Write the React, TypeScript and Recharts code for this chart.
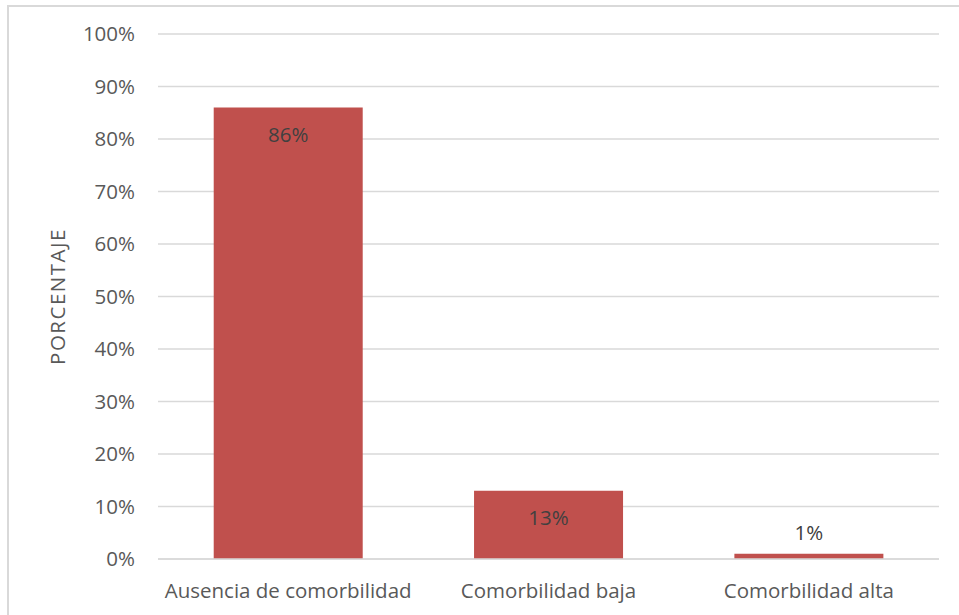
import { BarChart, Bar, XAxis, YAxis, CartesianGrid, LabelList, Label } from "recharts";

const CATEGORIES = ["Ausencia de comorbilidad", "Comorbilidad baja", "Comorbilidad alta"];
const PERCENTS = [86, 13, 1];
const Y_TICKS = [0, 10, 20, 30, 40, 50, 60, 70, 80, 90, 100];

const FONT = "'Open Sans', Lato, sans-serif";
const FS = 20.5;
const BAR_COLOR = "#C0504D";

const data = CATEGORIES.map((name, i) => ({ name, value: PERCENTS[i] }));

function ValueLabel(props: any) {
  const { x, y, width, height, value } = props;
  const inside = height > 40;
  const cy = inside ? y + 29 : y - 19;
  return (
    <text
      x={x + width / 2}
      y={cy}
      textAnchor="middle"
      dominantBaseline="middle"
      fill="#404040"
      fontSize={FS}
      fontFamily={FONT}
    >
      {`${value}%`}
    </text>
  );
}

function AxisTitle(props: any) {
  const { viewBox } = props;
  const cx = 60;
  const cy = viewBox.y + viewBox.height / 2;
  return (
    <text
      x={cx}
      y={cy}
      transform={`rotate(-90, ${cx}, ${cy})`}
      textAnchor="middle"
      dominantBaseline="middle"
      fill="#595959"
      fontSize={FS}
      fontFamily={FONT}
      letterSpacing={1.5}
    >
      PORCENTAJE
    </text>
  );
}

export default function App() {
  return (
    <div style={{ position: "fixed", left: 0, top: 0, width: 959, height: 615, background: "#fff" }}>
      <div
        style={{
          position: "absolute",
          left: 7,
          top: 5,
          right: -2,
          bottom: -2,
          borderLeft: "2px solid #D9D9D9",
          borderTop: "2px solid #D9D9D9",
        }}
      />
      <BarChart
        width={959}
        height={615}
        data={data}
        margin={{ top: 34, right: 20, left: 0, bottom: 0 }}
        barCategoryGap="21.4%"
        style={{ position: "absolute", left: 0, top: 0 }}
      >
        <CartesianGrid vertical={false} stroke="#D9D9D9" strokeWidth={1.5} />
        <XAxis
          dataKey="name"
          height={56}
          axisLine={{ stroke: "#D9D9D9", strokeWidth: 1.5 }}
          tickLine={false}
          tickSize={0}
          tickMargin={24}
          tick={{ fill: "#595959", fontSize: FS, fontFamily: FONT }}
        />
        <YAxis
          width={158}
          domain={[0, 100]}
          ticks={Y_TICKS}
          tickFormatter={(v) => `${v}%`}
          axisLine={false}
          tickLine={false}
          tickSize={0}
          tickMargin={23}
          tick={{ fill: "#595959", fontSize: FS, fontFamily: FONT }}
        >
          <Label content={<AxisTitle />} />
        </YAxis>
        <Bar dataKey="value" fill={BAR_COLOR} isAnimationActive={false}>
          <LabelList dataKey="value" content={<ValueLabel />} />
        </Bar>
      </BarChart>
    </div>
  );
}
